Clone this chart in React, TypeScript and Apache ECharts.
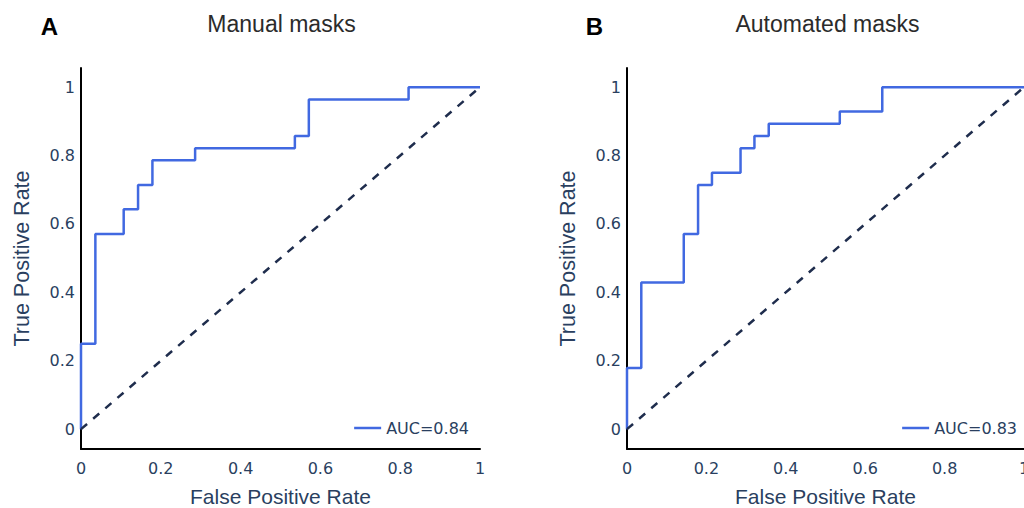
import React, { useEffect, useRef } from "react";
import * as echarts from "echarts";

const panelTitles = ["Manual masks", "Automated masks"];
const panelLetters = ["A", "B"];
const aucLabels = ["AUC=0.84", "AUC=0.83"];
const tickValues = [0, 0.2, 0.4, 0.6, 0.8, 1];
const xAxisTitle = "False Positive Rate";
const yAxisTitle = "True Positive Rate";

const manualFpr = [0, 0, 0.036, 0.036, 0.107, 0.107, 0.143, 0.143, 0.179, 0.179, 0.286, 0.286, 0.536, 0.536, 0.571, 0.571, 0.821, 0.821, 1];
const manualTpr = [0, 0.25, 0.25, 0.571, 0.571, 0.643, 0.643, 0.714, 0.714, 0.786, 0.786, 0.821, 0.821, 0.857, 0.857, 0.964, 0.964, 1, 1];

const autoFpr = [0, 0, 0.036, 0.036, 0.143, 0.143, 0.179, 0.179, 0.214, 0.214, 0.286, 0.286, 0.321, 0.321, 0.357, 0.357, 0.536, 0.536, 0.643, 0.643, 1];
const autoTpr = [0, 0.179, 0.179, 0.429, 0.429, 0.571, 0.571, 0.714, 0.714, 0.75, 0.75, 0.821, 0.821, 0.857, 0.857, 0.893, 0.893, 0.929, 0.929, 1, 1];

const chanceX = [0, 1];
const chanceY = [0, 1];

const TICK_COLOR = "#2a3f5f";
const CURVE_COLOR = "#4169e1";
const DIAG_COLOR = "#1f2d4d";
const TICK_FONT = "DejaVu Sans";
const TITLE_FONT = "Liberation Sans";

const grids = [
  { left: 81, top: 68, width: 399, height: 381, outerBoundsMode: "none" },
  { left: 627, top: 68, width: 397, height: 381, outerBoundsMode: "none" },
];

const zip = (xs: number[], ys: number[]) => xs.map((x, i) => [x, ys[i]]);

export default function App() {
  const ref = useRef<HTMLDivElement>(null);
  useEffect(() => {
    if (!ref.current) return;
    const chart = echarts.init(ref.current, null, { renderer: "svg" });
    const curves = [zip(manualFpr, manualTpr), zip(autoFpr, autoTpr)];
    const xAxes = grids.map((_, i) => ({
      type: "value",
      gridIndex: i,
      min: 0,
      max: 1,
      interval: 0.2,
      name: xAxisTitle,
      nameLocation: "middle",
      nameGap: 38.5,
      nameTextStyle: { fontSize: 21, lineHeight: 18, fontFamily: TITLE_FONT, color: TICK_COLOR },
      axisLine: { show: true, onZero: false, lineStyle: { color: "#000", width: 2 } },
      axisTick: { show: false },
      splitLine: { show: false },
      axisLabel: {
        fontSize: 16,
        fontFamily: TICK_FONT,
        color: TICK_COLOR,
        margin: 11,
        hideOverlap: false,
        formatter: (v: number) => String(Math.round(v * 10) / 10),
      },
    }));
    const yAxes = grids.map((_, i) => ({
      type: "value",
      gridIndex: i,
      min: -0.058,
      max: 1.056,
      name: yAxisTitle,
      nameLocation: "middle",
      nameGap: 48,
      nameTextStyle: { fontSize: 21.5, fontFamily: TITLE_FONT, color: TICK_COLOR },
      axisLine: { show: true, onZero: false, lineStyle: { color: "#000", width: 2 } },
      axisTick: { show: false },
      splitLine: { show: false },
      axisLabel: {
        fontSize: 16,
        fontFamily: TICK_FONT,
        color: TICK_COLOR,
        margin: 6,
        customValues: tickValues,
        formatter: (v: number) => String(Math.round(v * 10) / 10),
      },
    }));
    const series: any[] = [];
    grids.forEach((_, i) => {
      series.push({
        type: "line",
        name: aucLabels[i],
        xAxisIndex: i,
        yAxisIndex: i,
        data: curves[i],
        symbol: "none",
        lineStyle: { color: CURVE_COLOR, width: 2.5 },
        itemStyle: { color: CURVE_COLOR },
        silent: true,
      });
      series.push({
        type: "line",
        name: "chance" + i,
        xAxisIndex: i,
        yAxisIndex: i,
        data: zip(chanceX, chanceY),
        symbol: "none",
        lineStyle: { color: DIAG_COLOR, width: 2.5, type: [8, 8] },
        silent: true,
      });
    });
    const legendRights = [555, 7];
    const legends = grids.map((_, i) => ({
      data: [{ name: aucLabels[i], icon: "rect" }],
      right: legendRights[i],
      top: 420,
      padding: 0,
      itemWidth: 27,
      itemHeight: 2.5,
      itemGap: 5,
      selectedMode: false,
      textStyle: { fontSize: 16, fontFamily: TICK_FONT, color: TICK_COLOR },
    }));
    const graphics: any[] = [];
    grids.forEach((g, i) => {
      graphics.push({
        type: "text",
        x: g.left + 200.5,
        y: 24,
        style: {
          text: panelTitles[i],
          fontSize: 23,
          fontFamily: TITLE_FONT,
          fill: "#2b2b2b",
          align: "center",
          verticalAlign: "middle",
        },
      });
    });
    const letterX = [49.5, 594.5];
    panelLetters.forEach((t, i) => {
      graphics.push({
        type: "text",
        x: letterX[i],
        y: 26.5,
        style: {
          text: t,
          fontSize: 24,
          fontWeight: "bold",
          fontFamily: TITLE_FONT,
          fill: "#000",
          align: "center",
          verticalAlign: "middle",
        },
      });
    });
    chart.setOption({
      animation: false,
      backgroundColor: "#fff",
      grid: grids,
      xAxis: xAxes,
      yAxis: yAxes,
      legend: legends,
      series,
      graphic: graphics,
    });
    return () => chart.dispose();
  }, []);
  return (
    <div
      ref={ref}
      style={{ position: "fixed", left: 0, top: 0, width: 1024, height: 508 }}
    />
  );
}
